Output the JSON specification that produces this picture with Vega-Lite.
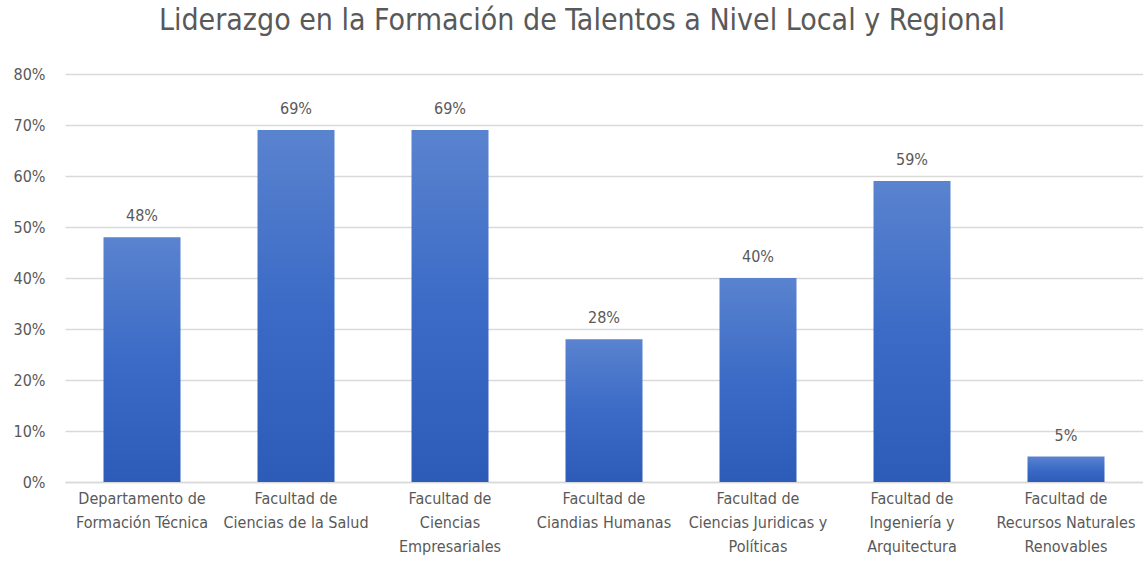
{
  "$schema": "https://vega.github.io/schema/vega-lite/v6.json",
  "autosize": {"type": "none"},
  "width": 1078,
  "height": 408,
  "padding": {"left": 65, "top": 74, "right": 0, "bottom": 91},
  "background": "white",
  "title": {
    "text": "Liderazgo en la Formación de Talentos a Nivel Local y Regional",
    "font": "'DejaVu Sans Condensed', Roboto, sans-serif",
    "fontSize": 30,
    "fontWeight": "normal",
    "color": "#595959",
    "anchor": "middle",
    "offset": 30,
    "dx": -22
  },
  "config": {
    "view": {"stroke": null},
    "font": "'DejaVu Sans Condensed', Roboto, sans-serif"
  },
  "data": {
    "values": [
      {"facultad": "Departamento de|Formación Técnica", "valor": 0.48},
      {"facultad": "Facultad de|Ciencias de la Salud", "valor": 0.69},
      {"facultad": "Facultad de|Ciencias|Empresariales", "valor": 0.69},
      {"facultad": "Facultad de|Ciandias Humanas", "valor": 0.28},
      {"facultad": "Facultad de|Ciencias Juridicas y|Políticas", "valor": 0.40},
      {"facultad": "Facultad de|Ingeniería y|Arquitectura", "valor": 0.59},
      {"facultad": "Facultad de|Recursos Naturales|Renovables", "valor": 0.05}
    ]
  },
  "encoding": {
    "x": {
      "field": "facultad",
      "type": "nominal",
      "sort": null,
      "scale": {"paddingInner": 0.5, "paddingOuter": 0.25},
      "axis": {
        "title": null,
        "labelAngle": 0,
        "labelExpr": "split(datum.label, '|')",
        "labelFont": "'DejaVu Sans Condensed', Roboto, sans-serif",
        "labelFontSize": 16,
        "labelColor": "#595959",
        "labelLineHeight": 24,
        "labelPadding": 8,
        "ticks": false,
        "domainColor": "#d9d9d9",
        "domainWidth": 1.5
      }
    },
    "y": {
      "field": "valor",
      "type": "quantitative",
      "scale": {"domain": [0, 0.8]},
      "axis": {
        "title": null,
        "format": ".0%",
        "values": [0, 0.1, 0.2, 0.3, 0.4, 0.5, 0.6, 0.7, 0.8],
        "labelOverlap": false,
        "labelFont": "'DejaVu Sans Condensed', Roboto, sans-serif",
        "labelFontSize": 16,
        "labelColor": "#595959",
        "labelPadding": 20,
        "ticks": false,
        "domain": false,
        "gridColor": "#d9d9d9",
        "gridWidth": 1.5
      }
    }
  },
  "layer": [
    {
      "mark": {
        "type": "bar",
        "color": {
          "gradient": "linear",
          "x1": 0, "y1": 0, "x2": 0, "y2": 1,
          "stops": [
            {"offset": 0, "color": "#5a83cf"},
            {"offset": 0.5, "color": "#3b6bc6"},
            {"offset": 1, "color": "#2c5cb7"}
          ]
        }
      }
    },
    {
      "mark": {
        "type": "text",
        "baseline": "bottom",
        "dy": -13,
        "fontSize": 16,
        "font": "'DejaVu Sans Condensed', Roboto, sans-serif",
        "color": "#595959"
      },
      "encoding": {
        "text": {"field": "valor", "type": "quantitative", "format": ".0%"}
      }
    }
  ]
}
